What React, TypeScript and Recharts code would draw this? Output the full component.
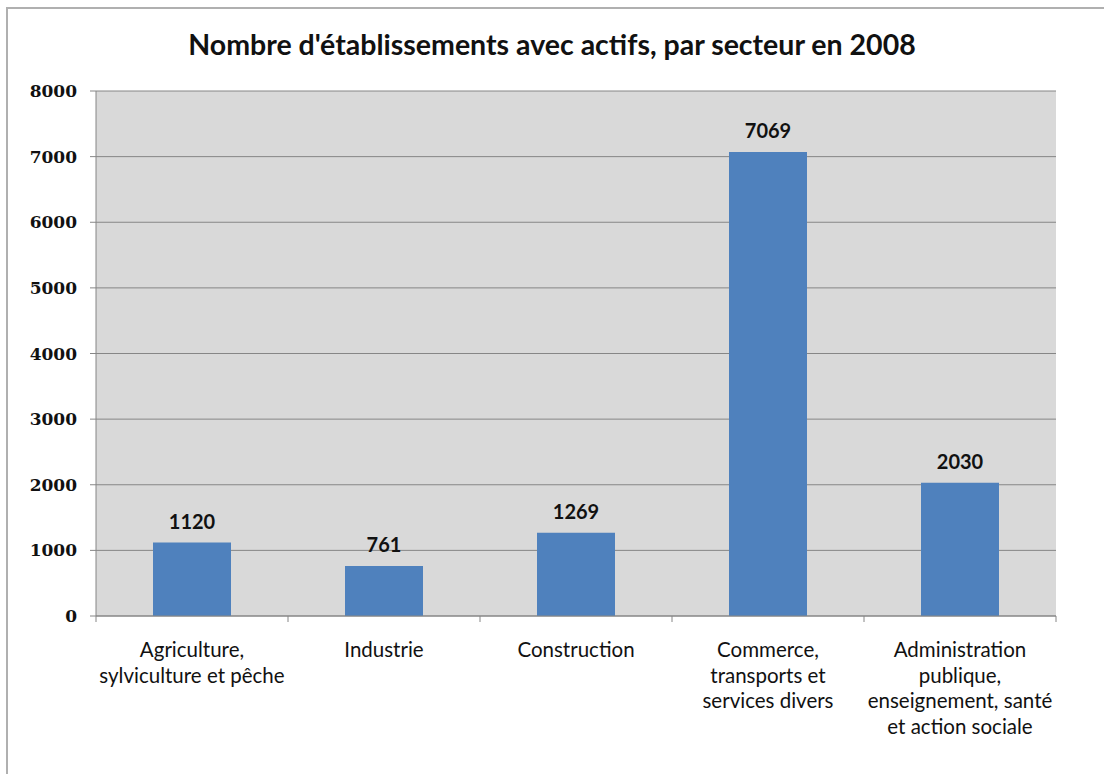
import { BarChart, Bar, CartesianGrid, XAxis, YAxis, LabelList } from 'recharts'

const categories = [
  'Agriculture,\nsylviculture et pêche',
  'Industrie',
  'Construction',
  'Commerce,\ntransports et\nservices divers',
  'Administration\npublique,\nenseignement, santé\net action sociale',
]
const values = [1120, 761, 1269, 7069, 2030]
const yTicks = [0, 1000, 2000, 3000, 4000, 5000, 6000, 7000, 8000]
const title = "Nombre d'établissements avec actifs, par secteur en 2008"

const data = categories.map((category, i) => ({ category, value: values[i] }))

const W = 1104
const H = 774
const margin = { top: 91, right: 48, bottom: 38, left: 6 }
const yAxisWidth = 90
const halfBand = (W - margin.left - margin.right - yAxisWidth) / categories.length / 2

const axisColor = '#868686'

const CategoryTick = (props: any) => {
  const { x, y, payload, index } = props
  const lines = String(payload.value).split('\n')
  return (
    <g>
      <line x1={x - halfBand} x2={x - halfBand} y1={y} y2={y + 6} stroke={axisColor} />
      {index === categories.length - 1 && (
        <line x1={x + halfBand} x2={x + halfBand} y1={y} y2={y + 6} stroke={axisColor} />
      )}
      <text textAnchor="middle" fontFamily="Lato" fontSize={20.5} fill="#111">
        {lines.map((line, i) => (
          <tspan key={i} x={x} y={y + 41 + i * 25.5}>
            {line}
          </tspan>
        ))}
      </text>
    </g>
  )
}

export default function App() {
  return (
    <div
      style={{
        position: 'absolute',
        left: 0,
        top: 0,
        width: W,
        height: H,
        overflow: 'hidden',
        background: '#fff',
      }}
    >
      <div
        style={{
          position: 'absolute',
          left: 6,
          top: 7,
          width: 1300,
          height: 1000,
          border: '2px solid #b0b0b0',
          boxSizing: 'border-box',
        }}
      />
      <div
        style={{
          position: 'absolute',
          left: 0,
          top: 27,
          width: W,
          textAlign: 'center',
          fontFamily: 'Lato',
          fontWeight: 'bold',
          fontSize: 28.5,
          color: '#111',
        }}
      >
        {title}
      </div>
      <div style={{ position: 'absolute', left: 0, top: 0 }}>
        <BarChart width={W} height={H} data={data} margin={margin} barSize={78}>
          <CartesianGrid vertical={false} fill="#D9D9D9" stroke={axisColor} strokeOpacity={1} />
          <XAxis
            dataKey="category"
            interval={0}
            height={120}
            tickSize={0}
            tickMargin={0}
            tickLine={false}
            axisLine={{ stroke: axisColor }}
            tick={<CategoryTick />}
          />
          <YAxis
            domain={[0, 8000]}
            ticks={yTicks}
            width={yAxisWidth}
            tickSize={6}
            tickMargin={13}
            axisLine={{ stroke: axisColor }}
            tickLine={{ stroke: axisColor }}
            tick={{ fill: '#111', fontFamily: 'DejaVu Serif', fontWeight: 'bold', fontSize: 17 }}
          />
          <Bar dataKey="value" fill="#4F81BD" isAnimationActive={false}>
            <LabelList
              dataKey="value"
              position="top"
              offset={14}
              fill="#111"
              fontFamily="Lato"
              fontWeight="bold"
              fontSize={20}
            />
          </Bar>
        </BarChart>
      </div>
    </div>
  )
}
